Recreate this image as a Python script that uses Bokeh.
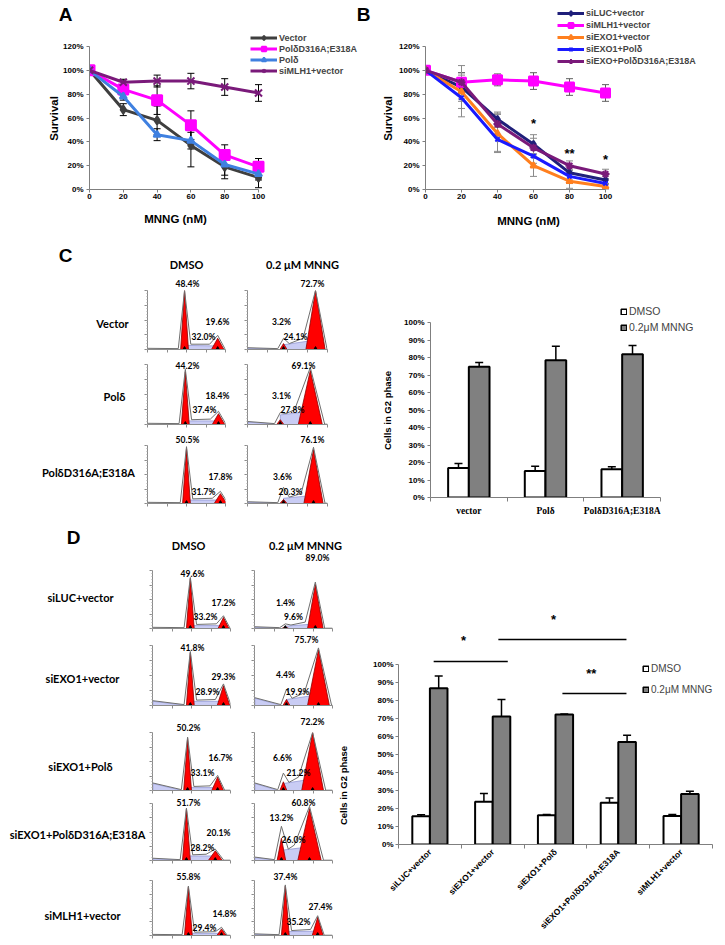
import math
from bokeh.plotting import figure
from bokeh.layouts import row, column
from bokeh.models import (ColumnDataSource, Whisker, TeeHead, Legend, LegendItem, Label, GridBox,
                          FixedTicker, NumeralTickFormatter, Range1d, CustomJSTickFormatter)
from bokeh.core.properties import value
from bokeh.embed import file_html
from bokeh.resources import INLINE

# ====================== DATA ======================
doses = [0, 20, 40, 60, 80, 100]
survival_ticks = [0.0, 0.2, 0.4, 0.6, 0.8, 1.0, 1.2]
g2_ticks = [0.0, 0.1, 0.2, 0.3, 0.4, 0.5, 0.6, 0.7, 0.8, 0.9, 1.0]

# Panel A
a_names = ["Vector", "PolδD316A;E318A", "Polδ", "siMLH1+vector"]
a_vector = [1.00, 0.67, 0.58, 0.37, 0.19, 0.10]
a_vector_err = [0.00, 0.05, 0.12, 0.18, 0.10, 0.085]
a_pold_mut = [1.00, 0.84, 0.75, 0.54, 0.29, 0.19]
a_pold_mut_err = [0.00, 0.03, 0.12, 0.12, 0.085, 0.07]
a_pold = [1.00, 0.78, 0.46, 0.41, 0.21, 0.13]
a_pold_err = [0.00, 0.03, 0.05, 0.07, 0.09, 0.05]
a_mlh1 = [1.00, 0.90, 0.91, 0.91, 0.86, 0.81]
a_mlh1_err = [0.00, 0.025, 0.05, 0.065, 0.07, 0.07]

# Panel B
b_names = ["siLUC+vector", "siMLH1+vector", "siEXO1+vector", "siEXO1+Polδ", "siEXO+PolδD316A;E318A"]
b_siluc = [1.00, 0.86, 0.59, 0.38, 0.14, 0.08]
b_siluc_err = [0.00, 0.12, 0.05, 0.08, 0.06, 0.04]
b_simlh1 = [1.00, 0.90, 0.92, 0.91, 0.86, 0.81]
b_simlh1_err = [0.00, 0.08, 0.05, 0.07, 0.07, 0.07]
b_siexo = [1.00, 0.82, 0.47, 0.20, 0.07, 0.025]
b_siexo_err = [0.00, 0.14, 0.16, 0.09, 0.06, 0.025]
b_siexo_pold = [1.00, 0.77, 0.42, 0.28, 0.11, 0.05]
b_siexo_pold_err = [0.00, 0.16, 0.10, 0.06, 0.06, 0.04]
b_siexo_mut = [1.00, 0.90, 0.55, 0.35, 0.20, 0.13]
b_siexo_mut_err = [0.00, 0.14, 0.10, 0.08, 0.04, 0.04]
b_star_dose = [60, 80, 100]
b_star_level = [0.555, 0.305, 0.255]
b_star_text = ["*", "**", "*"]

# Panel C bar chart
bar_series = ["DMSO", "0.2μM MNNG"]
c_groups = ["vector", "Polδ", "PolδD316A;E318A"]
c_dmso = [0.168, 0.152, 0.162]
c_dmso_err = [0.026, 0.026, 0.014]
c_mnng = [0.747, 0.785, 0.819]
c_mnng_err = [0.024, 0.080, 0.049]

# Panel D bar chart
d_groups = ["siLUC+vector", "siEXO1+vector", "siEXO1+Polδ", "siEXO1+PolδD316A;E318A", "siMLH1+vector"]
d_dmso = [0.157, 0.237, 0.162, 0.232, 0.158]
d_dmso_err = [0.008, 0.047, 0.004, 0.026, 0.008]
d_mnng = [0.868, 0.711, 0.722, 0.570, 0.281]
d_mnng_err = [0.068, 0.094, 0.003, 0.037, 0.015]
d_sig_x0 = [0.56, 1.59, 2.61]
d_sig_x1 = [1.74, 3.63, 3.63]
d_sig_y = [1.017, 1.139, 0.839]
d_sig_tx = [1.035, 2.47, 3.07]
d_sig_ty = [1.133, 1.25, 0.95]
d_sig_text = ["*", "*", "**"]

# Flow-cytometry histograms (channel 0-200, counts 0-100 % of scale)
conditions = ["DMSO", "0.2 μM MNNG"]
c_rows = ["Vector", "Polδ", "PolδD316A;E318A"]
c_g1_pos = [95, 90, 97, 82, 100, 90]
c_g1_h = [100, 10, 88, 8, 95, 7]
c_g1_w = [10, 9, 10, 9, 10, 9]
c_g2_pos = [180, 170, 182, 157, 187, 165]
c_g2_h = [19, 100, 18, 90, 17, 93]
c_g2_w = [16, 24, 16, 30, 16, 24]
c_s_lo = [7, 8, 6, 16, 6, 9]
c_s_hi = [6, 16, 6, 22, 6, 14]
c_env_g1 = [100, 19, 92, 20, 98, 28]
c_env_g2 = [24, 100, 22, 95, 21, 97]
c_debris = [1, 2, 1, 4, 1, 2]
c_pct_g1 = ["48.4%", "3.2%", "44.2%", "3.1%", "50.5%", "3.6%"]
c_pct_s = ["32.0%", "24.1%", "37.4%", "27.8%", "31.7%", "20.3%"]
c_pct_g2 = ["19.6%", "72.7%", "18.4%", "69.1%", "17.8%", "76.1%"]

d_rows = ["siLUC+vector", "siEXO1+vector", "siEXO1+Polδ", "siEXO1+PolδD316A;E318A", "siMLH1+vector"]
d_g1_pos = [97, 79, 97, 82, 90, 74, 87, 69, 92, 79]
d_g1_h = [86, 3, 88, 10, 90, 15, 90, 39, 88, 90]
d_g1_w = [10, 9, 10, 9, 10, 9, 10, 11, 10, 10]
d_g2_pos = [182, 156, 182, 164, 167, 149, 161, 141, 177, 162]
d_g2_h = [19, 76, 33, 93, 23, 100, 17, 91, 12, 33]
d_g2_w = [14, 20, 16, 28, 15, 28, 18, 30, 12, 14]
d_s_lo = [5, 4, 7, 10, 5, 12, 8, 18, 4, 7]
d_s_hi = [5, 8, 7, 18, 5, 20, 8, 24, 4, 8]
d_env_g1 = [88, 8, 90, 27, 92, 30, 92, 60, 90, 92]
d_env_g2 = [22, 80, 36, 96, 26, 100, 20, 95, 15, 36]
d_debris = [1, 2, 7, 12, 12, 12, 3, 5, 1, 2]
d_pct_g1 = ["49.6%", "1.4%", "41.8%", "4.4%", "50.2%", "6.6%", "51.7%", "13.2%", "55.8%", "37.4%"]
d_pct_s = ["33.2%", "9.6%", "28.9%", "19.9%", "33.1%", "21.2%", "28.2%", "26.0%", "29.4%", "35.2%"]
d_pct_g2 = ["17.2%", "89.0%", "29.3%", "75.7%", "16.7%", "72.2%", "20.1%", "60.8%", "14.8%", "27.4%"]

hist_channel_ticks = [0, 50, 100, 150, 200]
hist_count_ticks = [0, 25, 50, 75, 100]
hist_count_minor = list(range(0, 101, 5))

# ====================== LAYOUT / STYLE ======================
FONT = "Liberation Sans"
SERIF = "Liberation Serif"
CAL = "Lato"
PAGE_W, PAGE_H = 725, 944


def make_fig(fig_box, frame_box, xr, yr):
    fx0, fy0, fx1, fy1 = fig_box
    rx0, ry0, rx1, ry1 = frame_box
    p = figure(width=fx1 - fx0, height=fy1 - fy0, x_range=xr, y_range=yr,
               output_backend="svg", toolbar_location=None,
               min_border_left=rx0 - fx0, min_border_right=fx1 - rx1,
               min_border_top=ry0 - fy0, min_border_bottom=fy1 - ry1)
    p.outline_line_color = None
    p.grid.visible = False
    return p


# transparent overlay that carries free-standing texts and legends (page pixel coordinates)
overlay = figure(width=PAGE_W, height=PAGE_H, x_range=Range1d(0, PAGE_W), y_range=Range1d(PAGE_H, 0),
                 x_axis_location=None, y_axis_location=None, toolbar_location=None,
                 output_backend="svg", min_border=0)
overlay.background_fill_color = None
overlay.border_fill_color = None
overlay.outline_line_color = None
overlay.grid.visible = False


def place_text(px, py, text, size, font=FONT, style="bold", angle=0.0, align="center"):
    overlay.add_layout(Label(x=px, y=py, text=text, angle=angle, text_align=align, text_baseline="middle",
                             text_font=font, text_font_size=f"{size}px",
                             text_font_style=style, text_color="black"))


def page_legend(items, top_left, height, **kw):
    x, y = top_left
    leg = Legend(items=items, location=(x, PAGE_H - y - height), padding=0, margin=0,
                 border_line_color=None, background_fill_alpha=0, inactive_fill_alpha=0, **kw)
    overlay.add_layout(leg)


def style_num_axes(p, color="#7f7f7f", size=8):
    for ax in list(p.xaxis) + list(p.yaxis):
        ax.axis_line_color = color
        ax.major_tick_line_color = color
        ax.major_tick_in = 0
        ax.major_tick_out = 3
        ax.minor_tick_line_color = None
        ax.major_label_text_font = FONT
        ax.major_label_text_font_style = "bold"
        ax.major_label_text_font_size = f"{size}px"
        ax.major_label_text_color = "black"
        ax.major_label_standoff = 3


def survival_panel(p, names, series, errs, colors, markers, msizes, err_colors, leg_top_left, row_h):
    style_num_axes(p)
    p.xaxis.ticker = FixedTicker(ticks=doses)
    p.xaxis.bounds = (doses[0], doses[-1])
    p.xaxis.major_label_standoff = 1
    p.yaxis.ticker = FixedTicker(ticks=survival_ticks)
    p.yaxis.formatter = NumeralTickFormatter(format="0%")
    items = []
    for name, ys, es, col, mk, ms, ec in zip(names, series, errs, colors, markers, msizes, err_colors):
        src = ColumnDataSource(dict(x=doses, y=ys))
        p.line("x", "y", source=src, line_color=col, line_width=3)
        p.scatter("x", "y", source=src, marker=mk, size=ms, fill_color=col, line_color=col, line_width=2)
        ex = [x for x, e in zip(doses, es) if e > 0]
        lo = [y - e for y, e in zip(ys, es) if e > 0]
        hi = [y + e for y, e in zip(ys, es) if e > 0]
        wsrc = ColumnDataSource(dict(x=ex, lo=lo, hi=hi))
        p.add_layout(Whisker(source=wsrc, base="x", lower="lo", upper="hi", line_color=ec, line_width=1,
                             upper_head=TeeHead(size=7, line_color=ec, line_width=1),
                             lower_head=TeeHead(size=7, line_color=ec, line_width=1)))
        # hidden twin of the series in the overlay, only used to draw the legend sample
        l2 = overlay.line("x", "y", source=src, line_color=col, line_width=3, visible=False)
        s2 = overlay.scatter("x", "y", source=src, marker=mk, size=ms, fill_color=col, line_color=col,
                             line_width=2, visible=False)
        items.append(LegendItem(label=name, renderers=[l2, s2]))
    page_legend(items, leg_top_left, row_h * len(items), label_text_font=FONT, label_text_font_style="bold",
                label_text_font_size="9px", glyph_width=27, glyph_height=row_h, label_height=row_h,
                spacing=0, label_standoff=2)


def bar_panel(p, groups, dmso, dmso_err, mnng, mnng_err, off, bw, lab_font, lab_size, orient,
              standoff, leg_top_left, leg_size, leg_spacing):
    n = len(groups)
    centers = [i + 0.5 for i in range(n)]
    style_num_axes(p)
    xa = p.xaxis[0]
    xa.ticker = FixedTicker(ticks=centers, minor_ticks=list(range(n + 1)))
    xa.formatter = CustomJSTickFormatter(args=dict(labels=groups), code="return labels[Math.floor(tick)];")
    xa.bounds = (0, n)
    xa.major_tick_out = 0
    xa.minor_tick_out = 4
    xa.minor_tick_in = 0
    xa.minor_tick_line_color = "#7f7f7f"
    xa.major_label_text_font = lab_font
    xa.major_label_text_font_size = f"{lab_size}px"
    xa.major_label_orientation = orient
    xa.major_label_standoff = standoff
    ya = p.yaxis[0]
    ya.ticker = FixedTicker(ticks=g2_ticks)
    ya.formatter = NumeralTickFormatter(format="0%")
    ya.bounds = (0, 1)
    src = ColumnDataSource(dict(
        xd=[c - off for c in centers], xm=[c + off for c in centers], dmso=dmso, mnng=mnng,
        dlo=[v - e for v, e in zip(dmso, dmso_err)], dhi=[v + e for v, e in zip(dmso, dmso_err)],
        mlo=[v - e for v, e in zip(mnng, mnng_err)], mhi=[v + e for v, e in zip(mnng, mnng_err)]))
    fills = ["white", "#808080"]
    p.vbar(x="xd", top="dmso", width=bw, source=src, fill_color=fills[0], line_color="black", line_width=2)
    p.vbar(x="xm", top="mnng", width=bw, source=src, fill_color=fills[1], line_color="black", line_width=2)
    for base, lo, hi in (("xd", "dlo", "dhi"), ("xm", "mlo", "mhi")):
        p.add_layout(Whisker(source=src, base=base, lower=lo, upper=hi, line_color="black", line_width=1.5,
                             upper_head=TeeHead(size=8, line_color="black", line_width=1.5),
                             lower_head=TeeHead(size=8, line_color="black", line_width=1.5)))
    items = []
    for name, fc, xcol, tcol in zip(bar_series, fills, ("xd", "xm"), ("dmso", "mnng")):
        r = overlay.vbar(x=xcol, top=tcol, width=bw, source=src, fill_color=fc, line_color="black",
                         line_width=1.5, visible=False)
        items.append(LegendItem(label=name, renderers=[r]))
    page_legend(items, leg_top_left, 2 * 12 + leg_spacing, label_text_font=FONT,
                label_text_font_size=f"{leg_size}px", glyph_width=7, glyph_height=7, label_height=7,
                spacing=leg_spacing, label_standoff=2)


def draw_hist(p, g1, g1h, g1w, g2, g2h, g2w, s1, s2, e1, e2, deb):
    for ax in list(p.xaxis) + list(p.yaxis):
        ax.axis_line_color = "#8c8c8c"
        ax.major_tick_line_color = "#8c8c8c"
        ax.major_tick_in = 0
        ax.major_tick_out = 3
        ax.minor_tick_in = 0
        ax.minor_tick_out = 1
        ax.minor_tick_line_color = "#a8a8a8"
        ax.major_label_text_color = None
    p.xaxis.ticker = FixedTicker(ticks=hist_channel_ticks)
    p.yaxis.ticker = FixedTicker(ticks=hist_count_ticks, minor_ticks=hist_count_minor)
    lav_x = [[g1, g1, g2, g2]]
    lav_y = [[0, s1, s2, 0]]
    if deb > 1:
        lav_x.append([1, 1, g1 - 2 * g1w, g1 - 2 * g1w])
        lav_y.append([0, deb, 1, 0])
    p.patches(lav_x, lav_y, fill_color="#c9ccf4", line_color="#8a8fd0", line_width=0.7)
    p.patches([[g1 - g1w, g1, g1 + g1w], [g2 - g2w, g2, g2 + g2w]], [[0, g1h, 0], [0, g2h, 0]],
              fill_color="#ff0000", line_color="#8b0000", line_width=0.8)
    ex = [1, g1 - 1.6 * g1w, g1, g1 + 1.6 * g1w, g2 - 1.3 * g2w, g2, g2 + 1.2 * g2w, 200]
    ey = [deb + 1, 1.5, e1, s1 + 2, s2 + 3, e2, 0.5, 0.5]
    p.line(ex, ey, line_color="#6f6f6f", line_width=1)
    p.scatter([g1, g2], [0, 0], marker="triangle", size=5, color="black")


# ---------------- Panel A ----------------
A_FIG = (0, 0, 352, 245)
A_FRAME = (89, 46, 270, 192)
A_X100 = 258
pA = make_fig(A_FIG, A_FRAME,
              Range1d(0, doses[-1] * (A_FRAME[2] - A_FRAME[0]) / (A_X100 - A_FRAME[0])),
              Range1d(survival_ticks[0], survival_ticks[-1]))
survival_panel(pA, a_names, [a_vector, a_pold_mut, a_pold, a_mlh1],
               [a_vector_err, a_pold_mut_err, a_pold_err, a_mlh1_err],
               ["#3f3f3f", "#ff00ff", "#3f80e0", "#7a1a7a"],
               ["diamond", "square", "triangle", "x"], [8, 10, 7, 10],
               ["black"] * 4, (250, 32), 11)

# ---------------- Panel B ----------------
B_FIG = (352, 0, 725, 245)
B_FRAME = (425, 44, 616, 189)
B_X100 = 605
pB = make_fig(B_FIG, B_FRAME,
              Range1d(0, doses[-1] * (B_FRAME[2] - B_FRAME[0]) / (B_X100 - B_FRAME[0])),
              Range1d(survival_ticks[0], survival_ticks[-1]))
survival_panel(pB, b_names, [b_siluc, b_simlh1, b_siexo, b_siexo_pold, b_siexo_mut],
               [b_siluc_err, b_simlh1_err, b_siexo_err, b_siexo_pold_err, b_siexo_mut_err],
               ["#1f1f7a", "#ff00ff", "#ff7f1e", "#1a1aff", "#7a1a7a"],
               ["diamond", "square", "triangle", "x", "asterisk"], [7, 9, 6, 6, 8],
               ["#8a8a8a", "#606060", "#8a8a8a", "#8a8a8a", "#8a8a8a"], (557, 7), 12)
pB.text(x=b_star_dose, y=b_star_level, text=b_star_text, text_font=value(FONT), text_font_style="bold",
        text_font_size="13px", text_align="center", text_baseline="middle", text_color="black")

# ---------------- Histogram blocks ----------------
C_ROWS = [(245, 356, 290, 349), (356, 434, 364, 424), (434, 525, 445, 503)]
C_COLS = [((0, 236), (147, 225)), ((236, 360), (247, 327))]
D_ROWS = [(525, 633, 570, 628), (633, 713, 645, 705), (713, 795, 732, 790),
          (795, 866, 803, 860), (866, 944, 880, 935)]
D_COLS = [((0, 242), (152, 230)), ((242, 335), (254, 332))]


def build_hists(rows, cols, params):
    k = 0
    rls = []
    for (fy0, fy1, ry0, ry1) in rows:
        pair = []
        for (fx0, fx1), (rx0, rx1) in cols:
            p = make_fig((fx0, fy0, fx1, fy1), (rx0, ry0, rx1, ry1), Range1d(0, 200), Range1d(0, 100))
            draw_hist(p, *params[k])
            pair.append(p)
            k += 1
        rls.append(row(*pair))
    return column(*rls)


c_params = list(zip(c_g1_pos, c_g1_h, c_g1_w, c_g2_pos, c_g2_h, c_g2_w, c_s_lo, c_s_hi,
                    c_env_g1, c_env_g2, c_debris))
d_params = list(zip(d_g1_pos, d_g1_h, d_g1_w, d_g2_pos, d_g2_h, d_g2_w, d_s_lo, d_s_hi,
                    d_env_g1, d_env_g2, d_debris))
c_block = build_hists(C_ROWS, C_COLS, c_params)
d_block = build_hists(D_ROWS, D_COLS, d_params)

# ---------------- Panel C bars ----------------
C_FIG = (360, 245, 725, 525)
C_FRAME = (430, 322, 660, 497)
pC = make_fig(C_FIG, C_FRAME, Range1d(0, len(c_groups)), Range1d(g2_ticks[0], g2_ticks[-1]))
bar_panel(pC, c_groups, c_dmso, c_dmso_err, c_mnng, c_mnng_err, 0.135, 0.27, SERIF, 9.5, "horizontal",
          4, (620, 305), 10.5, 4)

# ---------------- Panel D bars ----------------
D_FIG = (335, 525, 725, 944)
D_FRAME = (398, 605, 712, 844)
D_Y100 = 664
pD = make_fig(D_FIG, D_FRAME, Range1d(0, len(d_groups)),
              Range1d(0, (D_FRAME[3] - D_FRAME[1]) / (D_FRAME[3] - D_Y100)))
bar_panel(pD, d_groups, d_dmso, d_dmso_err, d_mnng, d_mnng_err, 0.14, 0.28, FONT, 8.5, math.pi / 4,
          2, (642, 661), 10, 10)
pD.yaxis.major_label_standoff = 2
pD.segment(x0=d_sig_x0, y0=d_sig_y, x1=d_sig_x1, y1=d_sig_y, line_color="black", line_width=1.5)
pD.text(x=d_sig_tx, y=d_sig_ty, text=d_sig_text, text_font=value(FONT), text_font_style="bold",
        text_font_size="13px", text_align="center", text_baseline="middle", text_color="black")

# ---------------- Free texts (page positions) ----------------
place_text(65, 14, "A", 19)
place_text(363, 14, "B", 19)
place_text(53, 118, "Survival", 11.5, angle=math.pi / 2)
place_text(175, 218, "MNNG (nM)", 11.5)
place_text(387, 118, "Survival", 11.5, angle=math.pi / 2)
place_text(528, 220, "MNNG (nM)", 11.5)
place_text(387, 410, "Cells in G2 phase", 9.5, angle=math.pi / 2)
place_text(343, 785, "Cells in G2 phase", 9.5, angle=math.pi / 2)

place_text(65, 255, "C", 19)
place_text(186, 264, conditions[0], 11, font=CAL)
place_text(302, 264, conditions[1], 11, font=CAL)
place_text(73, 537, "D", 19)
place_text(188, 545, conditions[0], 11, font=CAL)
place_text(305, 545, conditions[1], 11, font=CAL)

C_ROW_LABEL_POS = [(112, 323), (114, 396), (88, 472)]
D_ROW_LABEL_POS = [(80, 597), (82, 678), (80, 766), (77, 834), (82, 915)]
for name, (px, py) in zip(c_rows, C_ROW_LABEL_POS):
    place_text(px, py, name, 11, font=CAL)
for name, (px, py) in zip(d_rows, D_ROW_LABEL_POS):
    place_text(px, py, name, 11, font=CAL)

C_PCT_POS = [((187, 283), (203, 336), (217, 321)),
             ((281, 321), (295, 336), (312, 283)),
             ((187, 365), (204, 409), (217, 395)),
             ((281, 395), (292, 409), (303, 365)),
             ((187, 439), (203, 491), (220, 476)),
             ((282, 476), (290, 491), (312, 439))]
D_PCT_POS = [((192, 573), (205, 616), (223, 602)),
             ((285, 602), (293, 616), (317, 557)),
             ((192, 647), (207, 691), (223, 676)),
             ((285, 674), (297, 691), (306, 639)),
             ((188, 727), (202, 772), (220, 757)),
             ((282, 757), (298, 772), (312, 721)),
             ((188, 802), (202, 847), (218, 832)),
             ((281, 817), (293, 839), (303, 802)),
             ((188, 876), (204, 927), (224, 913)),
             ((285, 876), (298, 921), (320, 906))]
for texts, poss in (((c_pct_g1, c_pct_s, c_pct_g2), C_PCT_POS), ((d_pct_g1, d_pct_s, d_pct_g2), D_PCT_POS)):
    for k, pos in enumerate(poss):
        for t, (px, py) in zip((texts[0][k], texts[1][k], texts[2][k]), pos):
            place_text(px, py, t, 8.5, font=CAL)

main = column(row(pA, pB), row(c_block, pC), row(d_block, pD))
page = GridBox(children=[(main, 0, 0), (overlay, 0, 0)])

open("out.html", "w").write(file_html(page, INLINE))
